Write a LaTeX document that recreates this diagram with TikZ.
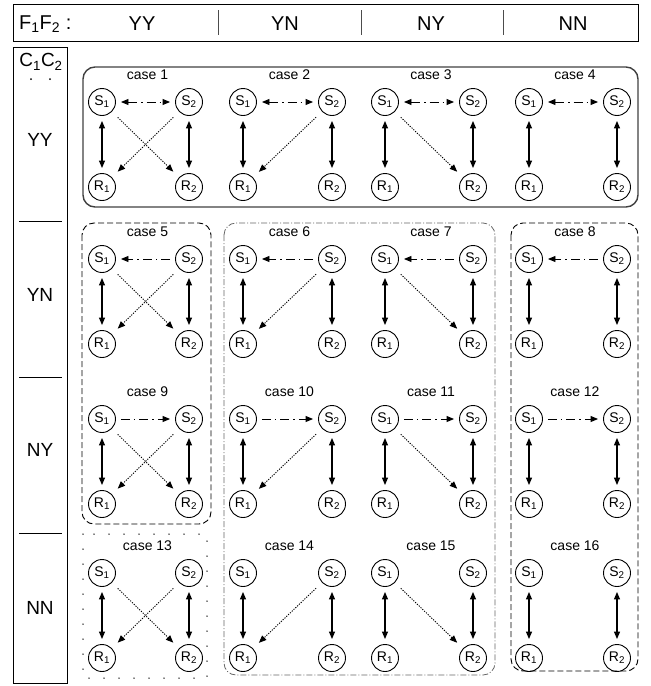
\documentclass[tikz,border=0pt]{standalone}
\usepackage{fontspec}
\setmainfont{Liberation Sans}
\usetikzlibrary{arrows.meta}
\begin{document}
\begin{tikzpicture}[x=1pt,y=-1pt,
  >={Triangle[length=7.5pt,width=6pt]},
  agent/.style={circle,draw,line width=0.9pt,minimum size=27pt,inner sep=0pt,
    font=\fontsize{14}{14}\selectfont},
  caselbl/.style={inner sep=0pt,font=\fontsize{14}{14}\selectfont},
  headlbl/.style={inner sep=0pt,font=\fontsize{20}{20}\selectfont},
  rowlbl/.style={inner sep=0pt,font=\fontsize{19}{19}\selectfont},
  vert/.style={line width=1.3pt,<->,shorten >=5pt,shorten <=5pt},
  link/.style={line width=0.9pt,dash pattern=on 9pt off 4pt on 1.5pt off 4pt,
    shorten >=5pt,shorten <=5pt},
  cross/.style={line width=0.9pt,dash pattern=on 1.2pt off 1.3pt,->,
    shorten >=8pt,shorten <=8pt},
  groupsolid/.style={line width=1.4pt,black!75,rounded corners=12pt},
  groupdashed/.style={line width=0.9pt,dash pattern=on 6pt off 3pt,rounded corners=12pt},
  groupdashdot/.style={line width=0.8pt,black!60,dash pattern=on 6pt off 2pt on 1pt off 2pt,rounded corners=12pt},
  groupdots/.style={line width=1.5pt,dash pattern=on 0pt off 15pt,line cap=round},
]
\useasboundingbox (0,0) rectangle (651,686);

% header row: F1F2 combinations
\draw[line width=1pt] (13,4) rectangle (638,41);
\node[headlbl,anchor=west] (hF) at (19,24) {F\textsubscript{1}F\textsubscript{2} :};
\node[headlbl] (hYY) at (142,24) {YY};
\node[headlbl] (hYN) at (285,24) {YN};
\node[headlbl] (hNY) at (431,24) {NY};
\node[headlbl] (hNN) at (573,24) {NN};
\foreach \x in {218,361,503}
  \draw[line width=1pt,black!70] (\x,10) -- (\x,35);

% left column: C1C2 combinations
\draw[line width=1pt] (13,47) rectangle (67,683);
\node[rowlbl] (hC) at (41,62) {C\textsubscript{1}C\textsubscript{2}};
\fill (31,79) circle (1pt) (50,79) circle (1pt);
\node[rowlbl] (rYY) at (40,140) {YY};
\node[rowlbl] (rYN) at (40,295) {YN};
\node[rowlbl] (rNY) at (40,450) {NY};
\node[rowlbl] (rNN) at (40,608) {NN};
\foreach \y in {221,377,533}
  \draw[line width=1pt] (19,\y) -- (62,\y);

% groups of cases
\draw[groupsolid] (83,67) rectangle (638,207);
\draw[groupdashed] (82,223) rectangle (211,524);
\draw[groupdots] (83,534) rectangle (207,678);
\draw[groupdashdot] (224,223) rectangle (495,675);
\draw[groupdashed] (511,223) rectangle (638,671);

% the sixteen cases
\foreach \c/\xa/\xb in {1/102/189,2/243/332,3/385/473,4/529/617}{
  \foreach \r/\ya/\yb in {1/102/187,2/259/344,3/419/504,4/573/658}{
    \pgfmathtruncatemacro\n{4*(\r-1)+\c}
    \node[caselbl] (lab\n) at ({(\xa+\xb)/2+2},\ya-27) {case \n};
    \node[agent] (s1-\n) at (\xa,\ya) {S\textsubscript{1}};
    \node[agent] (s2-\n) at (\xb,\ya) {S\textsubscript{2}};
    \node[agent] (r1-\n) at (\xa,\yb) {R\textsubscript{1}};
    \node[agent] (r2-\n) at (\xb,\yb) {R\textsubscript{2}};
    \draw[vert] (s1-\n) -- (r1-\n);
    \draw[vert] (s2-\n) -- (r2-\n);
    \ifcase\r\or
      \draw[link,<->] (s1-\n) -- (s2-\n);
    \or
      \draw[link,->] (s2-\n) -- (s1-\n);
    \or
      \draw[link,->] (s1-\n) -- (s2-\n);
    \or
    \fi
    \ifodd\c\relax\ifnum\c<4
      \draw[cross] (s1-\n) -- (r2-\n);
    \fi\fi
    \ifnum\c<3
      \draw[cross] (s2-\n) -- (r1-\n);
    \fi
  }
}
\end{tikzpicture}
\end{document}
